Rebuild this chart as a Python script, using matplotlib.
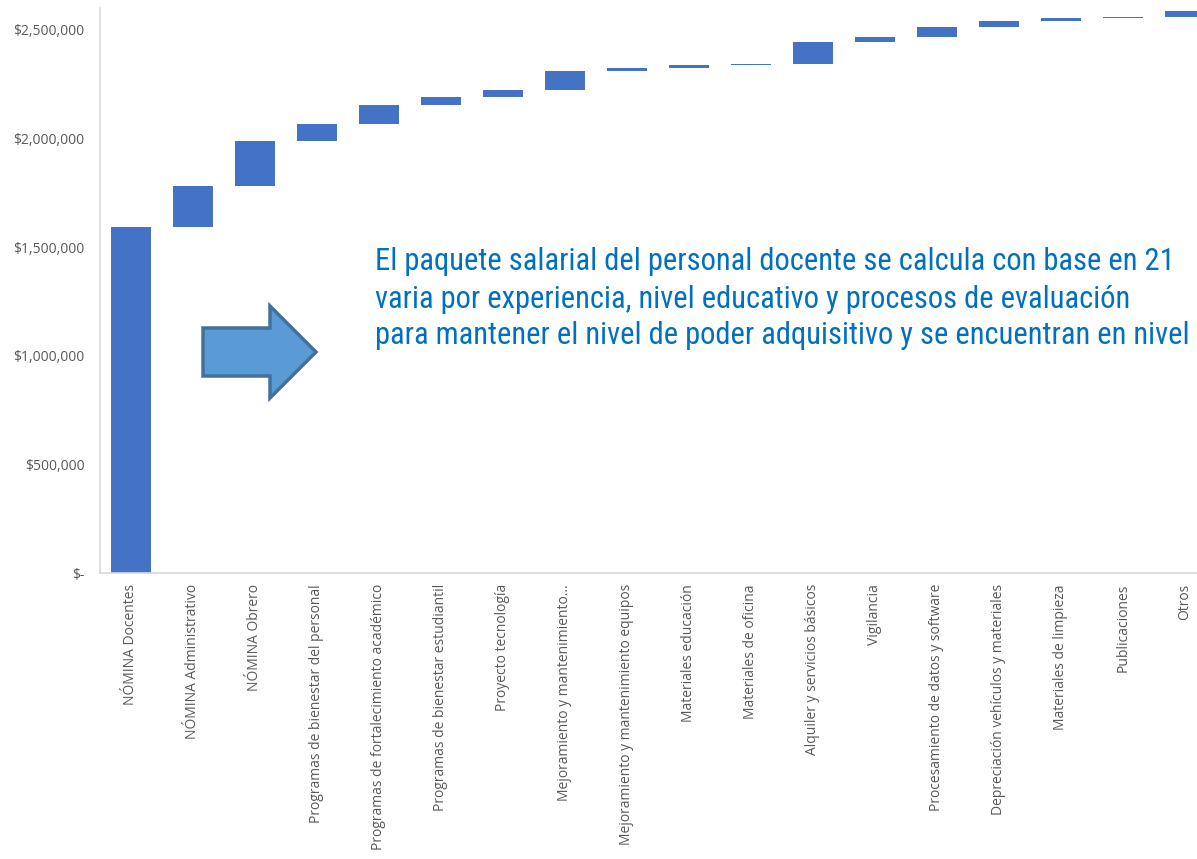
import numpy as np
import matplotlib
matplotlib.use("Agg")
import matplotlib.pyplot as plt
from matplotlib.patches import Polygon
from matplotlib.ticker import FuncFormatter

# --- Daten (Waterfall: Beiträge je Kategorie) ---
categories = [
    "NÓMINA Docentes",
    "NÓMINA Administrativo",
    "NÓMINA Obrero",
    "Programas de bienestar del personal",
    "Programas de fortalecimiento académico",
    "Programas de bienestar estudiantil",
    "Proyecto tecnología",
    "Mejoramiento y mantenimiento...",
    "Mejoramiento y mantenimiento equipos",
    "Materiales educación",
    "Materiales de oficina",
    "Alquiler y servicios básicos",
    "Vigilancia",
    "Procesamiento de datos y software",
    "Depreciación vehículos y materiales",
    "Materiales de limpieza",
    "Publicaciones",
    "Otros",
]
increments = [1591000, 190000, 206000, 78000, 88000, 36000, 35000, 85000,
              14000, 15000, 6000, 100000, 21000, 48000, 28000, 13000, 6000, 27000]
y_ticks = [0, 500000, 1000000, 1500000, 2000000, 2500000]

# sichtbarer Teil des Hinweistextes (im Original am rechten Rand abgeschnitten)
note_lines = [
    "El paquete salarial del personal docente se calcula con base en 21",
    "varia por experiencia, nivel educativo y procesos de evaluación",
    "para mantener el nivel de poder adquisitivo y se encuentran en nivel",
]

W, H = 1197, 859
BAR_COLOR = "#4472C4"
TEXT_GRAY = "#595959"
AXIS_GRAY = "#D9D9D9"

plt.rcParams["font.family"] = ["Open Sans", "DejaVu Sans"]

fig = plt.figure(figsize=(W / 100, H / 100), dpi=100)
# Achse reicht rechts über den Bildrand hinaus (wie im Original abgeschnitten)
ax = fig.add_axes([100 / W, (H - 573) / H, (1216 - 100) / W, (573 - 8) / H])

x = np.arange(len(categories))
bottoms = np.concatenate([[0], np.cumsum(increments)[:-1]])
ax.bar(x, increments, bottom=bottoms, width=0.645, color=BAR_COLOR, linewidth=0)

ax.set_xlim(-0.5, len(categories) - 0.5)
ax.set_ylim(0, 2600000)
ax.set_yticks(y_ticks)
ax.yaxis.set_major_formatter(FuncFormatter(lambda v, p: "$-" if v == 0 else f"${v:,.0f}"))
ax.set_xticks(x)
ax.set_xticklabels(categories, rotation=90, va="top", ha="center")
ax.tick_params(axis="both", length=0, labelsize=10, colors=TEXT_GRAY)
ax.tick_params(axis="y", pad=11)
ax.tick_params(axis="x", pad=8)

for side in ["top", "right"]:
    ax.spines[side].set_visible(False)
for side in ["left", "bottom"]:
    ax.spines[side].set_color(AXIS_GRAY)
    ax.spines[side].set_linewidth(1.2)

# --- Hinweistext ---
for i, line in enumerate(note_lines):
    fig.text(375 / W, 1 - (262 + 37 * i) / H, line, color="#0070C0", fontsize=22,
             family=["Roboto Condensed", "DejaVu Sans"], va="center", ha="left")

# --- Blockpfeil ---
arrow_px = [(203, 328), (270, 328), (270, 306), (316, 352), (270, 398), (270, 376), (203, 376)]
arrow = Polygon([(px / W, 1 - py / H) for px, py in arrow_px], closed=True,
                transform=fig.transFigure, facecolor="#5B9BD5", edgecolor="#41719C",
                linewidth=2.5, joinstyle="miter")
fig.patches.append(arrow)

fig.savefig("out.png", dpi=100)
